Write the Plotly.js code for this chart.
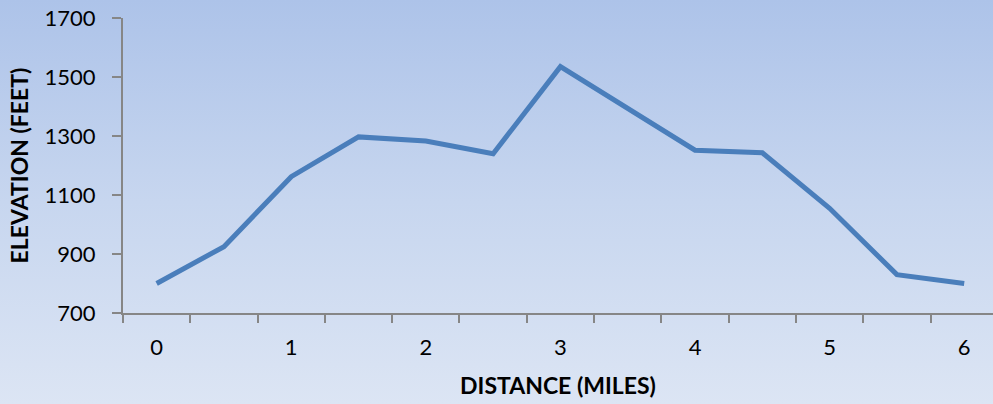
<!DOCTYPE html>
<html>
<head>
<meta charset="utf-8">
<script src="https://cdn.plot.ly/plotly-3.0.1.min.js"></script>
<style>
  html, body { margin: 0; padding: 0; }
  body { width: 993px; height: 404px; background: linear-gradient(to bottom, #adc3e9 0%, #c7d6ef 50%, #dce5f4 100%); }
  #chart { width: 993px; height: 404px; }
</style>
</head>
<body>
<div id="chart"></div>
<script>
const distanceMiles = [0, 0.5, 1, 1.5, 2, 2.5, 3, 3.5, 4, 4.5, 5, 5.5, 6];
const elevationFeet = [800, 925, 1162, 1297, 1283, 1240, 1535, 1395, 1252, 1243, 1055, 830, 800];
const xTickLabels = ["0", "1", "2", "3", "4", "5", "6"];
const xTickValues = [0, 1, 2, 3, 4, 5, 6];
const yTickValues = [700, 900, 1100, 1300, 1500, 1700];

const font = "Lato, 'Open Sans', sans-serif";

Plotly.newPlot('chart', [{
  x: distanceMiles,
  y: elevationFeet,
  type: 'scatter',
  mode: 'lines',
  line: { color: '#4a7ebb', width: 5 },
  hoverinfo: 'skip'
}], {
  width: 993,
  height: 404,
  paper_bgcolor: 'rgba(0,0,0,0)',
  plot_bgcolor: 'rgba(0,0,0,0)',
  margin: { l: 123, r: 0, t: 18, b: 91 },
  showlegend: false,
  font: { family: font, color: '#000000', size: 22 },
  xaxis: {
    range: [-0.25, 6.214],
    tickvals: xTickValues,
    ticktext: xTickLabels,
    ticks: '',
    ticklabelstandoff: 14,
    showgrid: false,
    zeroline: false,
    showline: true,
    linecolor: '#868686',
    linewidth: 2,
    minor: { tick0: -0.25, dtick: 0.5, ticks: 'outside', ticklen: 8, tickcolor: '#868686', tickwidth: 2, showgrid: false },
    title: { text: '<b>DISTANCE (MILES)</b>', font: { family: font, size: 23 }, standoff: 18 }
  },
  yaxis: {
    range: [700, 1700],
    tickvals: yTickValues,
    ticks: 'outside',
    ticklen: 9,
    tickcolor: '#868686',
    tickwidth: 2,
    ticklabelstandoff: 12,
    showgrid: false,
    zeroline: false,
    showline: true,
    linecolor: '#868686',
    linewidth: 2,
    title: { text: '<b>ELEVATION (FEET)</b>', font: { family: font, size: 23 }, standoff: 10 }
  }
}, { displayModeBar: false, staticPlot: true });
</script>
</body>
</html>
